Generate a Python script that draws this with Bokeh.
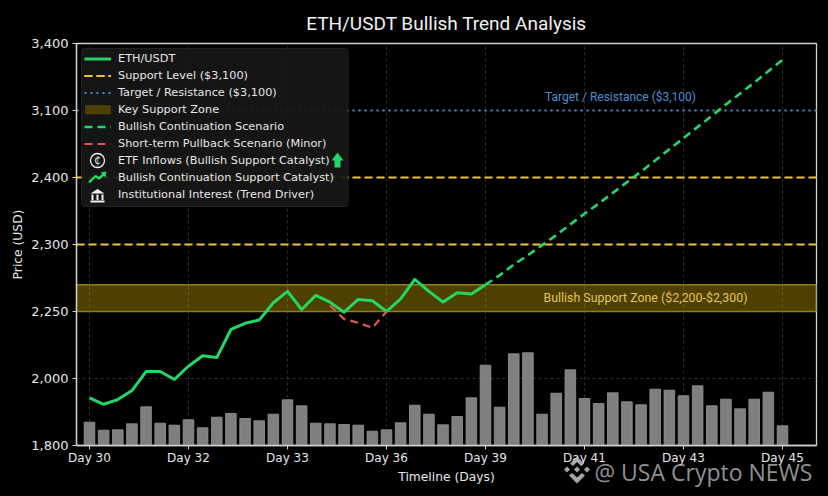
import numpy as np
from bokeh.plotting import figure
from bokeh.models import (FixedTicker, Range1d, Label, Legend, LegendItem, BoxAnnotation, PolyAnnotation)
from bokeh.embed import file_html
from bokeh.resources import INLINE

TITLE = "ETH/USDT Bullish Trend Analysis"
WATERMARK = "@ USA Crypto NEWS"
price_ticks = [1800, 2000, 2250, 2300, 2400, 3100, 3400]
day_tick_index = [0, 7, 14, 21, 28, 35, 42, 49]
day_labels = ["Day 30", "Day 32", "Day 33", "Day 36", "Day 39", "Day 41", "Day 43", "Day 45"]
actual_price = [1942, 1923, 1937, 1964, 2026, 2026, 1997, 2046, 2085, 2078, 2183, 2206, 2218, 2256.5, 2265,
                2251.5, 2262, 2257, 2247.5, 2259, 2258, 2250, 2259.5, 2274, 2265, 2257, 2264, 2263, 2270]
bullish_price = [2270, 2277, 2285, 2292, 2299.5, 2314, 2330, 2346, 2361, 2377, 2393, 2463, 2578, 2696, 2811,
                 2929, 3044, 3127, 3176, 3225, 3276, 3327]
pullback_price = [2254.5, 2222, 2208, 2189, 2250]
volume = [23.3, 15.3, 15.7, 21.7, 38.7, 22.3, 20.3, 25.7, 17.7, 28.3, 32, 27, 24.7, 31.3, 45.7, 39.7, 22.3,
          21.7, 21, 20.3, 14.3, 15.7, 22.7, 40.3, 31.3, 20.7, 29, 47.7, 80.3, 38.3, 91.7, 92.7, 31.3, 52.3,
          75.7, 47, 42, 52.7, 43.7, 40.7, 56.3, 55.3, 49.7, 59.7, 39.7, 46.3, 36.7, 46.3, 53.3, 19.7]
support_levels = [2300, 2400]
resistance_level = 3100
zone_low, zone_high = 2250, 2270
legend_labels = ["ETH/USDT", "Support Level ($3,100)", "Target / Resistance ($3,100)", "Key Support Zone",
                 "Bullish Continuation Scenario", "Short-term Pullback Scenario (Minor)",
                 "ETF Inflows (Bullish Support Catalyst)", "Bullish Continuation Support Catalyst)",
                 "Institutional Interest (Trend Driver)"]

GREEN, GOLD, BLUE, RED = "#22d667", "#f0c23a", "#3f8fd8", "#e2574c"
TXT = "#e6e6e6"
AXIS_FONT = "DejaVu Sans"
LABEL_FONT = "Roboto"

FL, FR, FT, FB = 76, 816, 43, 445          # frame edges in page pixels
STEP_X, STEP_Y = 14.143, 67.0


def dx(px):
    return (px - 89) / STEP_X


def dy(py):
    return (FB - py) / STEP_Y


def pos(v):
    """The price axis is evenly spaced between its unequal ticks."""
    return np.interp(v, price_ticks, np.arange(len(price_ticks)))


x0, x1 = dx(FL), dx(FR)
p = figure(width=828, height=496, output_backend="svg", toolbar_location=None,
           x_range=Range1d(x0, x1), y_range=Range1d(0, 6),
           background_fill_color="#000000", border_fill_color="#000000",
           min_border_left=FL, min_border_right=828 - FR,
           min_border_top=FT, min_border_bottom=496 - FB,
           x_axis_label="Timeline (Days)", y_axis_label="Price (USD)")
p.extra_y_ranges = {"vol": Range1d(0, (FB - FT))}

p.title.text = TITLE
p.title.align = "center"
p.title.text_color = "#f0f0f0"
p.title.text_font = LABEL_FONT
p.title.text_font_size = "19px"
p.title.text_font_style = "normal"
p.title.standoff = 18

p.outline_line_color = "#d0d0d0"
p.outline_line_width = 1.3
for ax in (p.xaxis[0], p.yaxis[0]):
    ax.axis_line_color = "#d0d0d0"
    ax.axis_line_width = 1.3
    ax.major_tick_line_color = "#d0d0d0"
    ax.major_tick_out = 4
    ax.major_tick_in = 0
    ax.minor_tick_line_color = None
    ax.major_label_text_color = TXT
    ax.major_label_text_font = AXIS_FONT
    ax.axis_label_text_color = TXT
    ax.axis_label_text_font = AXIS_FONT
    ax.axis_label_text_font_style = "normal"
    ax.major_label_standoff = 4
p.xaxis[0].major_label_standoff = 1
p.xaxis[0].axis_label_text_font_size = "12.3px"
p.yaxis[0].axis_label_text_font_size = "12.3px"
p.xaxis[0].major_label_text_font_size = "12px"
p.yaxis[0].major_label_text_font_size = "13px"
p.xaxis[0].axis_label_standoff = 2
p.yaxis[0].axis_label_standoff = 3
p.xaxis[0].ticker = FixedTicker(ticks=day_tick_index)
p.xaxis[0].major_label_overrides = {i: s for i, s in zip(day_tick_index, day_labels)}
p.yaxis[0].ticker = FixedTicker(ticks=list(range(len(price_ticks))))
p.yaxis[0].major_label_overrides = {i: f"{v:,}" for i, v in enumerate(price_ticks)}
for g in (p.xgrid[0], p.ygrid[0]):
    g.grid_line_color = "#2e2e2e"
    g.grid_line_dash = "3 3"
    g.grid_line_width = 1

idx = np.arange(len(volume))
p.vbar(x=idx, top=volume, bottom=0, width=0.75, y_range_name="vol",
       fill_color="#7f7f7f", line_color="#969696", line_width=0.8)

zone = p.quad(left=x0, right=x1, bottom=pos(zone_low), top=pos(zone_high),
              fill_color="#ffd400", fill_alpha=0.3, line_color="#8f7f15", line_width=1.6)
sup = [p.line([x0, x1], [pos(v), pos(v)], line_color=GOLD, line_width=2, line_dash="8 4") for v in support_levels]
res = p.line([x0, x1], [pos(resistance_level)] * 2, line_color=BLUE, line_width=2, line_dash="2 4")
act = p.line(np.arange(len(actual_price)), pos(actual_price), line_color=GREEN, line_width=3, line_join="round")
bull = p.line(np.arange(28, 28 + len(bullish_price)), pos(bullish_price), line_color=GREEN, line_width=2.6, line_dash="8 5")
pull = p.line(np.arange(17, 17 + len(pullback_price)), pos(pullback_price), line_color=RED, line_width=2.2, line_dash="8 5")

dummy = [p.scatter([np.nan], [np.nan], size=1, fill_alpha=0, line_alpha=0) for _ in range(4)]

# legend box
p.add_layout(BoxAnnotation(left=dx(81), right=dx(347.5), top=dy(48), bottom=dy(206),
                           fill_color="#171717", fill_alpha=0.92, line_color="#5a5a5a", line_width=1,
                           border_radius=3, level="annotation"))
rends = [[act], [sup[0], sup[1]], [res], [dummy[3]], [bull], [pull], [dummy[0]], [dummy[1]], [dummy[2]]]
legend = Legend(items=[LegendItem(label=l, renderers=r) for l, r in zip(legend_labels, rends)],
                location=(6, FB - 205), orientation="vertical", background_fill_alpha=0, border_line_alpha=0,
                padding=2, margin=0, spacing=0, glyph_width=27, glyph_height=17, label_height=17,
                label_standoff=7, label_text_color=TXT, label_text_font=AXIS_FONT, label_text_font_size="11.3px",
                click_policy="none")
p.add_layout(legend, "center")

# legend icons
p.add_layout(BoxAnnotation(left=dx(85), right=dx(110), top=dy(105), bottom=dy(113.5), fill_color="#4d4106", fill_alpha=1,
                           line_color="#6e5e12", line_width=1, level="overlay"))
p.scatter([dx(97)], [dy(160)], size=14, marker="circle", fill_alpha=0, line_color="#f0f0f0", line_width=1.3, level="overlay")
p.add_layout(Label(x=dx(97), y=dy(160), text="\u20b5", text_color="#f0f0f0", text_font="DejaVu Sans",
                   text_font_size="10px", text_align="center", text_baseline="middle", level="overlay"))
p.add_layout(PolyAnnotation(xs=[dx(v) for v in [337, 343, 340, 340, 334, 334, 331]],
                            ys=[dy(v) for v in [152, 160, 160, 167, 167, 160, 160]], xs_units="data", ys_units="data",
                            fill_color=GREEN, fill_alpha=1, line_alpha=0, level="overlay"))
p.line([dx(v) for v in [88.5, 95, 98.5, 104]], [dy(v) for v in [182, 175.5, 178, 173]], line_color=GREEN, line_width=2.4, level="overlay")
p.add_layout(PolyAnnotation(xs=[dx(v) for v in [106, 100, 105]], ys=[dy(v) for v in [171, 172, 177]], xs_units="data", ys_units="data",
                            fill_color=GREEN, fill_alpha=1, line_alpha=0, level="overlay"))
for xs, ys in [([97, 104, 90], [188.5, 193, 193]),
               ([90, 104, 104, 90], [200, 200, 202, 202]),
               ([91, 93, 93, 91], [194, 194, 199.5, 199.5]),
               ([96, 98, 98, 96], [194, 194, 199.5, 199.5]),
               ([101, 103, 103, 101], [194, 194, 199.5, 199.5])]:
    p.add_layout(PolyAnnotation(xs=[dx(v) for v in xs], ys=[dy(v) for v in ys], xs_units="data", ys_units="data",
                                fill_color="#f2f2f2", fill_alpha=1, line_alpha=0, level="overlay"))

# direct labels
p.add_layout(Label(x=dx(620), y=dy(96), text="Target / Resistance ($3,100)", text_color="#4a8fd0", text_font=LABEL_FONT,
                   text_font_size="12px", text_align="center", text_baseline="middle"))
p.add_layout(Label(x=dx(645), y=dy(297), text="Bullish Support Zone ($2,200-$2,300)", text_color="#e3c45a", text_font=LABEL_FONT,
                   text_font_size="12.4px", text_align="center", text_baseline="middle"))

# watermark: a transparent strip laid over the bottom right corner of the page
WX, WY, WW, WH = 556, 450, 272, 46
WM = "#b8b8b8"
wm = figure(width=WW, height=WH, output_backend="svg", toolbar_location=None,
            x_range=Range1d(WX, WX + WW), y_range=Range1d(WY + WH, WY),
            min_border=0, x_axis_location=None, y_axis_location=None,
            background_fill_alpha=0, border_fill_alpha=0, outline_line_color=None)
wm.grid.visible = False
wm.styles = {"position": "absolute", "left": f"{WX}px", "top": f"{WY}px"}
wm.add_layout(Label(x=594, y=471, text=WATERMARK, text_color=WM, text_alpha=0.8,
                    text_font="Open Sans", text_font_size="23px", text_align="left", text_baseline="middle"))
LX, LY = 576.5, 469
shapes = [([LX - 13, LX - 10, LX - 7, LX - 10], [LY, LY - 3, LY, LY + 3]),
          ([LX + 7, LX + 10, LX + 13, LX + 10], [LY, LY - 3, LY, LY + 3]),
          ([LX - 3, LX, LX + 3, LX], [LY, LY - 3, LY, LY + 3]),
          ([LX - 7, LX, LX + 7, LX + 4, LX, LX - 4], [LY - 6, LY - 13, LY - 6, LY - 3.5, LY - 7.5, LY - 3.5]),
          ([LX - 8, LX, LX + 8, LX + 5, LX, LX - 5], [LY + 6, LY + 14, LY + 6, LY + 3.5, LY + 8, LY + 3.5])]
for xs, ys in shapes:
    wm.patch(xs, ys, fill_color=WM, fill_alpha=0.9, line_alpha=0)

html = file_html((p, wm), INLINE)
html = html.replace("<head>", "<head><style>html,body{background:#000;margin:0;padding:0;overflow:hidden;}</style>", 1)
open("out.html", "w").write(html)
